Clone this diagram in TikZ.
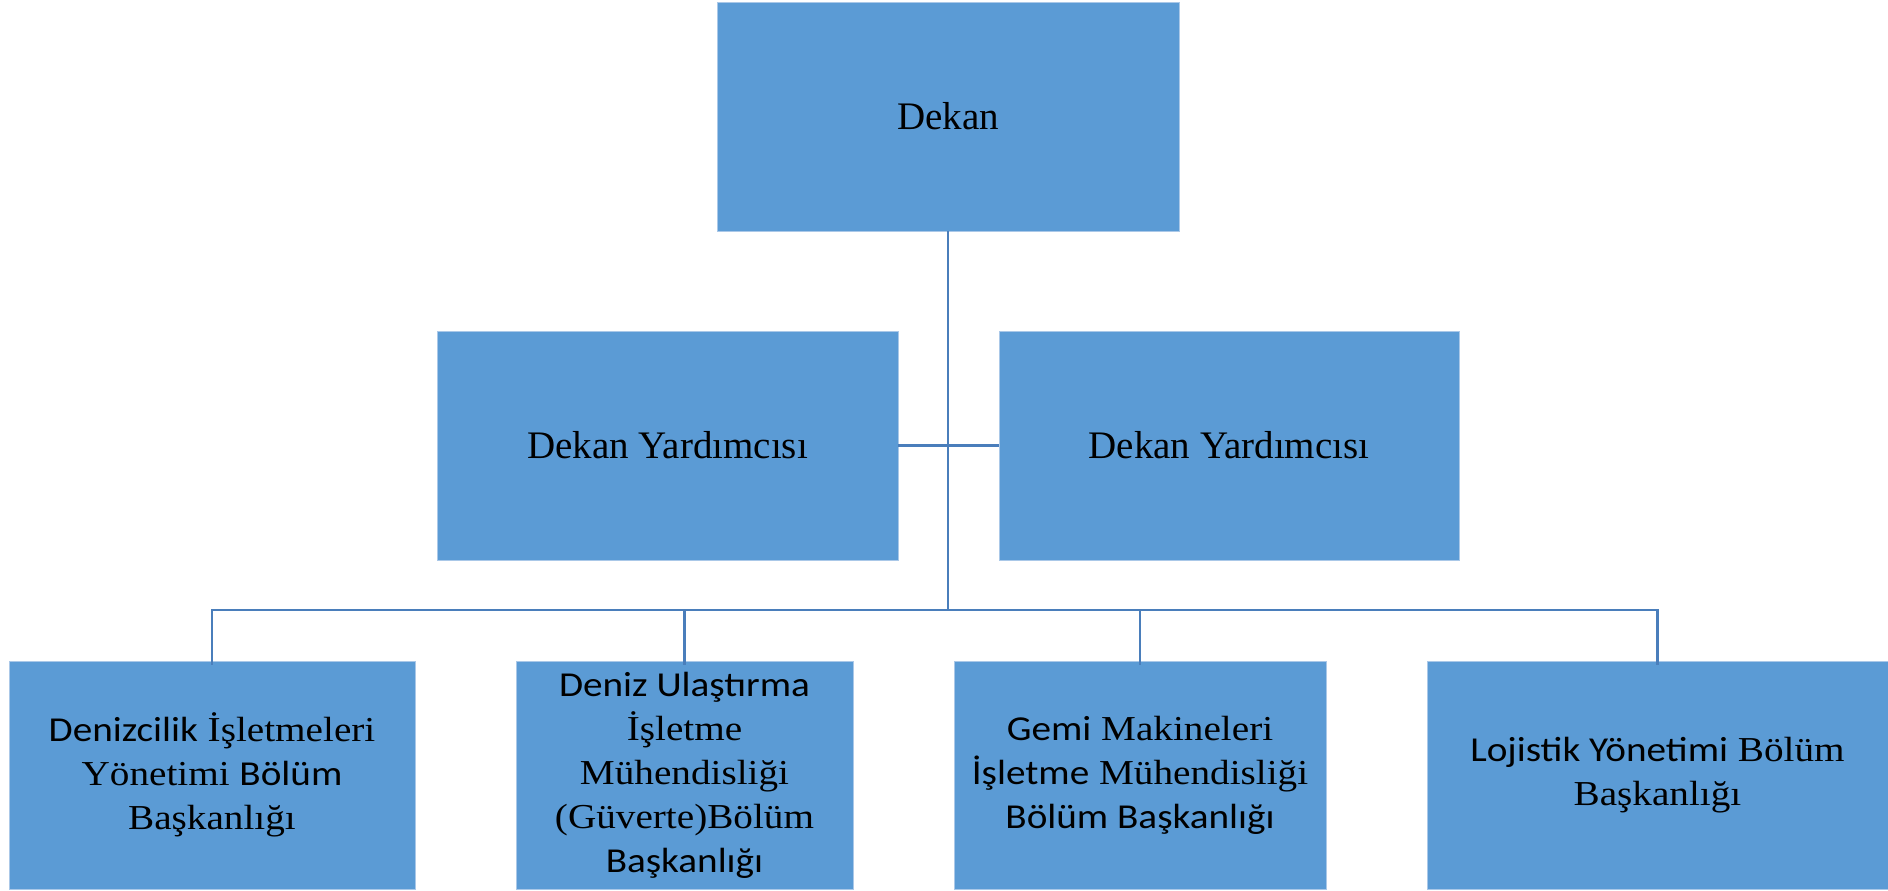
\documentclass[tikz,border=0pt]{standalone}
\usepackage{fontspec}
\setmainfont{Liberation Serif}
\newfontfamily\bserif[FakeStretch=1.12]{Liberation Serif}
\newfontfamily\bsans[FakeStretch=1.12]{Carlito}
\definecolor{boxblue}{RGB}{91,155,213}
\definecolor{boxedge}{RGB}{170,200,232}
\definecolor{linkblue}{RGB}{74,126,187}
\newcommand{\sn}[1]{{\bsans #1}}
\begin{document}
\begin{tikzpicture}[x=1pt,y=-1pt,
  orgbox/.style={rectangle, fill=boxblue, draw=boxedge, line width=0.8pt,
    inner sep=0pt, outer sep=0pt, align=center, text=black},
  topbox/.style={orgbox, font=\fontsize{39}{46}\selectfont},
  botbox/.style={orgbox, minimum height=228pt, font=\bserif\fontsize{35}{44}\selectfont},
  link/.style={draw=linkblue, line width=2.6pt}]
\useasboundingbox (0,0) rectangle (1888,891);
\node[topbox, minimum width=462pt, minimum height=229pt] (dekan) at (948,116.5) {Dekan};
\node[topbox, minimum width=461pt, minimum height=229pt] (dyl) at (667.5,445.5) {Dekan Yardımcısı};
\node[topbox, minimum width=460pt, minimum height=229pt] (dyr) at (1229,445.5) {Dekan Yardımcısı};
\node[botbox, minimum width=406pt] (b1) at (212,775)
  {\sn{Denizcilik} İşletmeleri\\Yönetimi \sn{Bölüm}\\Başkanlığı};
\node[botbox, minimum width=337pt] (b2) at (684.5,775)
  {\sn{Deniz Ulaştırma}\\İşletme\\Mühendisliği\\(Güverte)Bölüm\\\sn{Başkanlığı}};
\node[botbox, minimum width=372pt] (b3) at (1140,775)
  {\sn{Gemi} Makineleri\\\sn{İşletme} Mühendisliği\\\sn{Bölüm Başkanlığı}};
\node[botbox, minimum width=461pt] (b4) at (1657.5,775)
  {\sn{Lojistik Yönetimi} Bölüm\\Başkanlığı};
\coordinate (bus) at (948,610);
\draw[link] (dekan.south) -- (bus);
\draw[link] (dyl.east) -- (dyr.west);
\draw[link, line cap=rect] (b1.north |- bus) -- (b4.north |- bus);
\draw[link] (b1.north |- bus) -- ([yshift=-4pt]b1.north);
\draw[link] (b2.north |- bus) -- ([yshift=-4pt]b2.north);
\draw[link] (b3.north |- bus) -- ([yshift=-4pt]b3.north);
\draw[link] (b4.north |- bus) -- ([yshift=-4pt]b4.north);
\end{tikzpicture}
\end{document}
